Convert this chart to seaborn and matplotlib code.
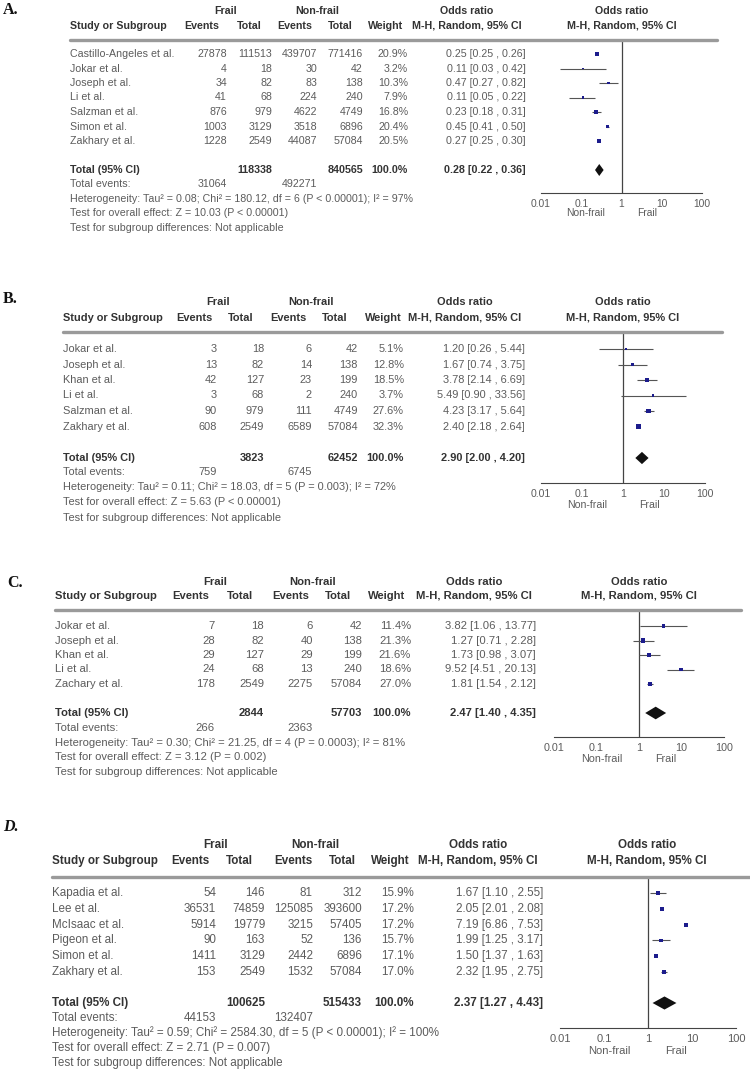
import matplotlib
matplotlib.use("Agg")
import matplotlib.pyplot as plt
import seaborn as sns
import pandas as pd
from matplotlib.lines import Line2D
from matplotlib.ticker import NullLocator
from matplotlib.transforms import blended_transform_factory

W, H = 750, 1076

# ---- Panel A ----
studies_a = ["Castillo-Angeles et al.", "Jokar et al.", "Joseph et al.", "Li et al.",
             "Salzman et al.", "Simon et al.", "Zakhary et al."]
frail_events_a = [27878, 4, 34, 41, 876, 1003, 1228]
frail_total_a = [111513, 18, 82, 68, 979, 3129, 2549]
nonfrail_events_a = [439707, 30, 83, 224, 4622, 3518, 44087]
nonfrail_total_a = [771416, 42, 138, 240, 4749, 6896, 57084]
weight_a = [20.9, 3.2, 10.3, 7.9, 16.8, 20.4, 20.5]
or_a = [0.25, 0.11, 0.47, 0.11, 0.23, 0.45, 0.27]
lo_a = [0.25, 0.03, 0.27, 0.05, 0.18, 0.41, 0.25]
hi_a = [0.26, 0.42, 0.82, 0.22, 0.31, 0.50, 0.30]
pooled_a = [0.28, 0.22, 0.36]
sum_total_a = [118338, 840565]
sum_events_a = [31064, 492271]
het_a = "Heterogeneity: Tau² = 0.08; Chi² = 180.12, df = 6 (P < 0.00001); I² = 97%"
overall_a = "Test for overall effect: Z = 10.03 (P < 0.00001)"

# ---- Panel B ----
studies_b = ["Jokar et al.", "Joseph et al.", "Khan et al.", "Li et al.",
             "Salzman et al.", "Zakhary et al."]
frail_events_b = [3, 13, 42, 3, 90, 608]
frail_total_b = [18, 82, 127, 68, 979, 2549]
nonfrail_events_b = [6, 14, 23, 2, 111, 6589]
nonfrail_total_b = [42, 138, 199, 240, 4749, 57084]
weight_b = [5.1, 12.8, 18.5, 3.7, 27.6, 32.3]
or_b = [1.20, 1.67, 3.78, 5.49, 4.23, 2.40]
lo_b = [0.26, 0.74, 2.14, 0.90, 3.17, 2.18]
hi_b = [5.44, 3.75, 6.69, 33.56, 5.64, 2.64]
pooled_b = [2.90, 2.00, 4.20]
sum_total_b = [3823, 62452]
sum_events_b = [759, 6745]
het_b = "Heterogeneity: Tau² = 0.11; Chi² = 18.03, df = 5 (P = 0.003); I² = 72%"
overall_b = "Test for overall effect: Z = 5.63 (P < 0.00001)"

# ---- Panel C ----
studies_c = ["Jokar et al.", "Joseph et al.", "Khan et al.", "Li et al.", "Zachary et al."]
frail_events_c = [7, 28, 29, 24, 178]
frail_total_c = [18, 82, 127, 68, 2549]
nonfrail_events_c = [6, 40, 29, 13, 2275]
nonfrail_total_c = [42, 138, 199, 240, 57084]
weight_c = [11.4, 21.3, 21.6, 18.6, 27.0]
or_c = [3.82, 1.27, 1.73, 9.52, 1.81]
lo_c = [1.06, 0.71, 0.98, 4.51, 1.54]
hi_c = [13.77, 2.28, 3.07, 20.13, 2.12]
pooled_c = [2.47, 1.40, 4.35]
sum_total_c = [2844, 57703]
sum_events_c = [266, 2363]
het_c = "Heterogeneity: Tau² = 0.30; Chi² = 21.25, df = 4 (P = 0.0003); I² = 81%"
overall_c = "Test for overall effect: Z = 3.12 (P = 0.002)"

# ---- Panel D ----
studies_d = ["Kapadia et al.", "Lee et al.", "McIsaac et al.", "Pigeon et al.",
             "Simon et al.", "Zakhary et al."]
frail_events_d = [54, 36531, 5914, 90, 1411, 153]
frail_total_d = [146, 74859, 19779, 163, 3129, 2549]
nonfrail_events_d = [81, 125085, 3215, 52, 2442, 1532]
nonfrail_total_d = [312, 393600, 57405, 136, 6896, 57084]
weight_d = [15.9, 17.2, 17.2, 15.7, 17.1, 17.0]
or_d = [1.67, 2.05, 7.19, 1.99, 1.50, 2.32]
lo_d = [1.10, 2.01, 6.86, 1.25, 1.37, 1.95]
hi_d = [2.55, 2.08, 7.53, 3.17, 1.63, 2.75]
pooled_d = [2.37, 1.27, 4.43]
sum_total_d = [100625, 515433]
sum_events_d = [44153, 132407]
het_d = "Heterogeneity: Tau² = 0.59; Chi² = 2584.30, df = 5 (P < 0.00001); I² = 100%"
overall_d = "Test for overall effect: Z = 2.71 (P = 0.007)"

subgroup_txt = "Test for subgroup differences: Not applicable"
tick_vals = [0.01, 0.1, 1, 10, 100]
tick_labels = ["0.01", "0.1", "1", "10", "100"]

# layout of each panel in pixels (the panels were pasted at slightly different scales)
layouts = {
    "A": dict(label=(3, 10), italic=False, fs=7.7, frail_y=11, head_y=26, sep_y=40, sep_x=(70, 717),
              row0=54, step=14.5, total_y=170, foot0=184, foot_step=14.6, study_x=70,
              col_right=[227, 272, 317, 363], head_c=[202, 249, 295, 340], frail_c=226, nf_c=317,
              w_right=408, w_head=386, or_right=526, or_head=467, forest_c=622,
              ax_x=(541, 702), ax_y=193, nf_dy=20.5),
    "B": dict(label=(3, 299), italic=False, fs=7.9, frail_y=302, head_y=318, sep_y=332, sep_x=(63, 722),
              row0=349, step=15.5, total_y=458, foot0=472, foot_step=15.2, study_x=63,
              col_right=[217, 264, 312, 358], head_c=[194, 241, 288, 335], frail_c=218, nf_c=311,
              w_right=404, w_head=383, or_right=525, or_head=465, forest_c=623,
              ax_x=(541, 705), ax_y=483, nf_dy=22),
    "C": dict(label=(7, 583), italic=False, fs=8.1, frail_y=582, head_y=596, sep_y=610, sep_x=(55, 741),
              row0=626, step=14.5, total_y=713, foot0=728, foot_step=14.7, study_x=55,
              col_right=[215, 264, 313, 362], head_c=[191, 240, 291, 338], frail_c=215, nf_c=313,
              w_right=411, w_head=387, or_right=536, or_head=474, forest_c=639,
              ax_x=(554, 724), ax_y=737, nf_dy=21.5),
    "D": dict(label=(3, 827), italic=True, fs=8.35, frail_y=845, head_y=861, sep_y=877, sep_x=(52, 750),
              row0=893, step=15.8, total_y=1003, foot0=1018, foot_step=15.0, study_x=52,
              col_right=[216, 265, 313, 362], head_c=[190, 239, 293, 342], frail_c=216, nf_c=315,
              w_right=414, w_head=390, or_right=543, or_head=478, forest_c=647,
              ax_x=(560, 736), ax_y=1028, nf_dy=22.5),
}

panels = {
    "A": (studies_a, frail_events_a, frail_total_a, nonfrail_events_a, nonfrail_total_a, weight_a,
          or_a, lo_a, hi_a, pooled_a, sum_total_a, sum_events_a, het_a, overall_a),
    "B": (studies_b, frail_events_b, frail_total_b, nonfrail_events_b, nonfrail_total_b, weight_b,
          or_b, lo_b, hi_b, pooled_b, sum_total_b, sum_events_b, het_b, overall_b),
    "C": (studies_c, frail_events_c, frail_total_c, nonfrail_events_c, nonfrail_total_c, weight_c,
          or_c, lo_c, hi_c, pooled_c, sum_total_c, sum_events_c, het_c, overall_c),
    "D": (studies_d, frail_events_d, frail_total_d, nonfrail_events_d, nonfrail_total_d, weight_d,
          or_d, lo_d, hi_d, pooled_d, sum_total_d, sum_events_d, het_d, overall_d),
}

sns.set_style("white")
plt.rcParams["font.family"] = ["Liberation Sans", "DejaVu Sans"]

TXT = "#5c5c5c"
HEAD = "#333333"
DOT = "#1c1c8c"

fig = plt.figure(figsize=(W / 100, H / 100), dpi=100)


def fx(x):
    return x / W


def fy(y):
    return 1 - y / H


def put(x, y, s, fs, ha="left", bold=False):
    fig.text(fx(x), fy(y), s, ha=ha, va="center", fontsize=fs,
             fontweight="bold" if bold else "normal", color=HEAD if bold else TXT)


def ci_text(o, l, h):
    return f"{o:.2f} [{l:.2f} , {h:.2f}]"


def draw_panel(key):
    (studies, fe, ft, ne, nt, wt, orr, lo, hi, pooled, sum_total, sum_events, het, overall) = panels[key]
    L = layouts[key]
    fs = L["fs"]
    scale = (L["ax_x"][1] - L["ax_x"][0]) / 161

    df = pd.DataFrame({"study": studies, "fe": fe, "ft": ft, "ne": ne, "nt": nt,
                       "weight": wt, "or": orr, "lo": lo, "hi": hi})
    df["y"] = L["row0"] + df.index * L["step"]

    # panel letter
    fig.text(fx(L["label"][0]), fy(L["label"][1]), f"{key}.", ha="left", va="center",
             fontsize=11.5, fontweight="bold", family="Liberation Serif",
             style="italic" if L["italic"] else "normal", color="#111111")

    # headers
    put(L["frail_c"], L["frail_y"], "Frail", fs, ha="center", bold=True)
    put(L["nf_c"], L["frail_y"], "Non-frail", fs, ha="center", bold=True)
    put(L["study_x"], L["head_y"], "Study or Subgroup", fs, bold=True)
    for c, lab in zip(L["head_c"], ["Events", "Total", "Events", "Total"]):
        put(c, L["head_y"], lab, fs, ha="center", bold=True)
    put(L["w_head"], L["head_y"], "Weight", fs, ha="center", bold=True)
    for c in (L["or_head"], L["forest_c"]):
        put(c, L["frail_y"], "Odds ratio", fs, ha="center", bold=True)
        put(c, L["head_y"], "M-H, Random, 95% CI", fs, ha="center", bold=True)

    fig.add_artist(Line2D([fx(L["sep_x"][0]), fx(L["sep_x"][1])], [fy(L["sep_y"])] * 2,
                          transform=fig.transFigure, color="#9a9a9a", lw=2.4))

    # study rows
    for _, r in df.iterrows():
        put(L["study_x"], r["y"], r["study"], fs)
        for c, v in zip(L["col_right"], [r["fe"], r["ft"], r["ne"], r["nt"]]):
            put(c, r["y"], f"{int(v)}", fs, ha="right")
        put(L["w_right"], r["y"], f"{r['weight']:.1f}%", fs, ha="right")
        put(L["or_right"], r["y"], ci_text(r["or"], r["lo"], r["hi"]), fs, ha="right")

    # total rows
    ty = L["total_y"]
    put(L["study_x"], ty, "Total (95% CI)", fs, bold=True)
    put(L["col_right"][1], ty, f"{sum_total[0]}", fs, ha="right", bold=True)
    put(L["col_right"][3], ty, f"{sum_total[1]}", fs, ha="right", bold=True)
    put(L["w_right"], ty, "100.0%", fs, ha="right", bold=True)
    put(L["or_right"], ty, ci_text(*pooled), fs, ha="right", bold=True)

    f0, fst = L["foot0"], L["foot_step"]
    put(L["study_x"], f0, "Total events:", fs)
    put(L["col_right"][0], f0, f"{sum_events[0]}", fs, ha="right")
    put(L["col_right"][2], f0, f"{sum_events[1]}", fs, ha="right")
    put(L["study_x"], f0 + fst, het, fs)
    put(L["study_x"], f0 + 2 * fst, overall, fs)
    put(L["study_x"], f0 + 3 * fst, subgroup_txt, fs)

    # forest axes
    x0, x1 = L["ax_x"]
    ytop, ybot = L["sep_y"], L["ax_y"]
    ax = fig.add_axes([fx(x0), fy(ybot), (x1 - x0) / W, (ybot - ytop) / H])
    ax.set_facecolor("none")
    ax.set_xscale("log")
    ax.set_xlim(0.01, 100)
    ax.set_ylim(ybot, ytop)

    ax.hlines(df["y"], df["lo"], df["hi"], color="#555555", lw=0.8, zorder=2)
    side_pt = (1.6 + df["weight"] * 0.11) * scale * 0.72
    sns.scatterplot(x=df["or"], y=df["y"], marker="s", s=(side_pt ** 2).to_numpy(),
                    color=DOT, linewidth=0, legend=False, zorder=3, ax=ax)

    est, plo, phi = pooled
    hh = 6.0 * scale
    ax.fill([plo, est, phi, est], [ty, ty - hh, ty, ty + hh], color="#111111", lw=0, zorder=3)
    ax.axvline(1, color="#444444", lw=0.9, zorder=1)

    sns.despine(ax=ax, left=True)
    ax.spines["bottom"].set_color("#444444")
    ax.spines["bottom"].set_linewidth(0.8)
    ax.set_xticks(tick_vals, tick_labels)
    ax.xaxis.set_minor_locator(NullLocator())
    ax.tick_params(axis="x", direction="inout", length=6, width=0.8, colors="#444444",
                   labelsize=fs * 0.96, labelcolor=TXT, pad=1.0)
    ax.set_yticks([])
    ax.set_xlabel("")
    ax.set_ylabel("")

    tr = blended_transform_factory(ax.transData, fig.transFigure)
    ax.text(0.13, fy(ybot + L["nf_dy"]), "Non-frail", transform=tr, ha="center", va="center",
            fontsize=fs * 0.96, color=TXT)
    ax.text(4.3, fy(ybot + L["nf_dy"]), "Frail", transform=tr, ha="center", va="center",
            fontsize=fs * 0.96, color=TXT)


for k in ["A", "B", "C", "D"]:
    draw_panel(k)

fig.savefig("out.png", dpi=100, facecolor="white")
